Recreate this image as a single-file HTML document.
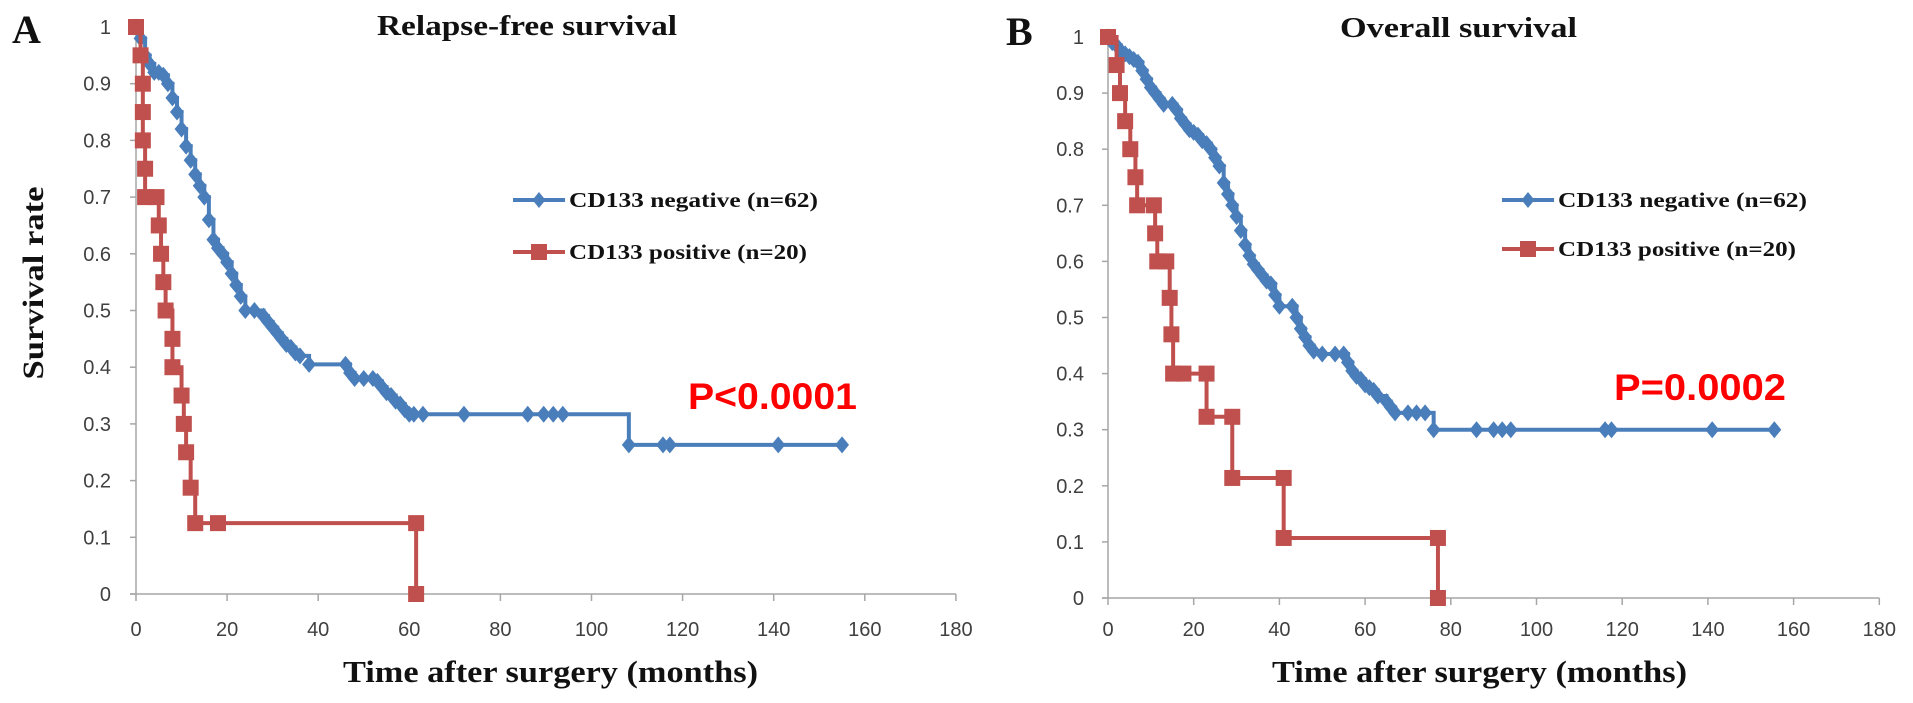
<!DOCTYPE html>
<html><head><meta charset="utf-8"><style>
html,body{margin:0;padding:0;background:#fff;}
svg{display:block;}
</style></head><body>
<svg id="chart" width="1913" height="703" viewBox="0 0 1913 703" xmlns="http://www.w3.org/2000/svg">
<g id="root"></g>
</svg>
<script>
// ---- data ----
const xTicks = [0,20,40,60,80,100,120,140,160,180];
const yTicks = [0,0.1,0.2,0.3,0.4,0.5,0.6,0.7,0.8,0.9,1];
const yTickLabels = ["0","0.1","0.2","0.3","0.4","0.5","0.6","0.7","0.8","0.9","1"];

const rfsNegT = [0,1,2,3,4,5,6,7,8,9,10,11,12,13,14,15,16,17,18,19,20,21,22,23,24,26,28,29,30,31,32,33,34,35,36,38,46,47,48,50,52,53,54,55,56,57,58,59,60,61,63,72,86,89.5,91.6,93.7,108.2,115.7,117.2,141,155];
const rfsNegS = [1,0.98,0.95,0.935,0.92,0.92,0.915,0.9,0.875,0.85,0.82,0.79,0.765,0.74,0.72,0.70,0.66,0.625,0.61,0.60,0.585,0.565,0.545,0.525,0.50,0.50,0.49,0.48,0.47,0.46,0.45,0.44,0.435,0.425,0.42,0.405,0.405,0.39,0.38,0.38,0.38,0.375,0.365,0.355,0.35,0.34,0.335,0.325,0.317,0.317,0.317,0.317,0.317,0.317,0.317,0.317,0.263,0.263,0.263,0.263,0.263];
const rfsPosT = [0,1,1.5,1.5,1.5,2,2,4.5,5,5.5,6,6.5,8,8,10,10.5,11,12,13,18,61.5,61.5];
const rfsPosS = [1,0.95,0.9,0.85,0.8,0.75,0.7,0.7,0.65,0.6,0.55,0.5,0.45,0.4,0.35,0.3,0.25,0.1875,0.125,0.125,0.125,0];

const osNegT = [0,1,2,3,4,5,6,7,8,9,10,11,12,13,15,16,17,18,19,20,21,22,23,24,25,26,27,28,29,30,31,32,33,34,35,36,37,38,39,40,43,44,45,46,47,48,50,53,55,56,57,58,59,60,61,62,63,65,66,67,70,72,74,76,86,90,92,94,116,117.5,141,155.5];
const osNegS = [1,0.99,0.985,0.975,0.97,0.965,0.96,0.955,0.94,0.925,0.91,0.9,0.89,0.88,0.88,0.87,0.855,0.845,0.835,0.83,0.825,0.815,0.81,0.80,0.785,0.77,0.74,0.72,0.70,0.68,0.655,0.63,0.61,0.595,0.585,0.575,0.565,0.56,0.54,0.52,0.52,0.50,0.48,0.465,0.45,0.44,0.435,0.435,0.435,0.42,0.405,0.395,0.39,0.38,0.375,0.37,0.36,0.35,0.34,0.33,0.33,0.33,0.33,0.30,0.30,0.30,0.30,0.30,0.30,0.30,0.30,0.30];
const osPosT = [0,2,2.8,4,5.2,6.4,6.8,10.7,11,11.5,13.6,14.4,14.8,15.2,17.6,23,23,29,29,41,41,77,77];
const osPosS = [1,0.95,0.9,0.85,0.8,0.75,0.7,0.7,0.65,0.6,0.6,0.535,0.47,0.4,0.4,0.4,0.323,0.323,0.214,0.214,0.107,0.107,0];

// ---- drawing ----
const NS = "http://www.w3.org/2000/svg";
const root = document.getElementById('root');
function mk(tag, attrs, parent){
  const e = document.createElementNS(NS, tag);
  for (const k in attrs) e.setAttribute(k, attrs[k]);
  (parent||root).appendChild(e);
  return e;
}
const BLUE = "#4a7ebb", RED = "#c0504d", AX = "#a6a6a6", TK = "#404040";

function panel(cfg){
  const g = mk('g', {});
  
  
  const x = t => cfg.x0 + t * cfg.px20 / 20;
  const y = s => cfg.y0 - s * cfg.py1;
  const ya = mk('line', {x1:x(0), y1:y(0), x2:x(0), y2:y(1), stroke:AX, 'stroke-width':1.5}, g);
  
  
  const xa = mk('line', {x1:x(0)-6, y1:y(0), x2:x(180), y2:y(0), stroke:AX, 'stroke-width':1.5}, g);
  
  
  yTicks.forEach((v,i) => {
    mk('line', {x1:x(0)-6, y1:y(v), x2:x(0), y2:y(v), stroke:AX, 'stroke-width':1.5}, g);
    const t = mk('text', {x:cfg.yLabR, y:y(v)+7, 'text-anchor':'end', fill:TK, 'font-family':'Liberation Sans, sans-serif', 'font-size':20}, g);
    t.textContent = yTickLabels[i];
    
    
  });
  xTicks.forEach(v => {
    mk('line', {x1:x(v), y1:y(0), x2:x(v), y2:y(0)+7, stroke:AX, 'stroke-width':1.5}, g);
    const t = mk('text', {x:x(v), y:636, 'text-anchor':'middle', fill:TK, 'font-family':'Liberation Sans, sans-serif', 'font-size':20}, g);
    t.textContent = String(v);
    
    
  });
  function series(T, S, color, kind, name){
    const sg = mk('g', {}, g);
    
    
    let d = "M" + x(T[0]) + "," + y(S[0]);
    for (let i = 1; i < T.length; i++) d += " H" + x(T[i]) + " V" + y(S[i]);
    mk('path', {d:d, fill:'none', stroke:color, 'stroke-width':4}, sg);
    for (let i = 0; i < T.length; i++){
      const cx = x(T[i]), cy = y(S[i]);
      let m;
      if (kind === 'diamond') m = mk('polygon', {points:`${cx},${cy-8.5} ${cx+7},${cy} ${cx},${cy+8.5} ${cx-7},${cy}`, fill:color}, sg);
      else m = mk('rect', {x:cx-8, y:cy-8, width:16, height:16, fill:color}, sg);
      
      
    }
  }
  series(cfg.negT, cfg.negS, BLUE, 'diamond', 'cd133-negative-curve');
  series(cfg.posT, cfg.posS, RED, 'square', 'cd133-positive-curve');
  const lg = mk('g', {}, g);
  
  
  [[BLUE,'diamond','CD133  negative (n=62)',cfg.legY1,cfg.legW1],[RED,'square','CD133 positive (n=20)',cfg.legY2,cfg.legW2]].forEach(L => {
    const ly = L[3];
    mk('line', {x1:cfg.legX, y1:ly, x2:cfg.legX+52, y2:ly, stroke:L[0], 'stroke-width':4}, lg);
    const cx = cfg.legX+26;
    if (L[1]==='diamond') mk('polygon', {points:`${cx},${ly-8} ${cx+6.5},${ly} ${cx},${ly+8} ${cx-6.5},${ly}`, fill:L[0]}, lg);
    else mk('rect', {x:cx-8, y:ly-8, width:16, height:16, fill:L[0]}, lg);
    const t = mk('text', {x:cfg.legX+56, y:ly+7, fill:'#111', 'font-family':'Liberation Serif, serif', 'font-weight':'bold', 'font-size':21, textLength:L[4], lengthAdjust:'spacingAndGlyphs'}, lg);
    t.textContent = L[2];
    
    
  });
  const texts = [
    [cfg.letter, cfg.letterX, cfg.letterY, 40, 'Liberation Serif, serif', '#111', null, 'panel-letter'],
    [cfg.title, cfg.titleX, cfg.titleY, 29, 'Liberation Serif, serif', '#111', cfg.titleW, 'panel-title'],
    ['Time after surgery (months)', cfg.xtX, 682, 31, 'Liberation Serif, serif', '#111', 415, 'x-axis-title'],
    [cfg.p, cfg.pX, cfg.pY, 37, 'Liberation Sans, sans-serif', '#ff0000', cfg.pW, 'p-value']
  ];
  texts.forEach(a => {
    const at = {x:a[1], y:a[2], 'font-size':a[3], 'font-family':a[4], 'font-weight':'bold', fill:a[5]};
    if (a[6]) { at.textLength = a[6]; at.lengthAdjust = 'spacingAndGlyphs'; }
    const t = mk('text', at, g);
    t.textContent = a[0];
    
    
  });
}

panel({name:'panel-a-relapse-free', x0:136, px20:91.1, y0:594, py1:567, yLabR:111,
  negT:rfsNegT, negS:rfsNegS, posT:rfsPosT, posS:rfsPosS,
  legX:513, legY1:200, legY2:252, legW1:249, legW2:238,
  letter:'A', letterX:12, letterY:43, title:'Relapse-free survival', titleX:377, titleY:35, titleW:300,
  xtX:343, p:'P<0.0001', pX:688, pY:409, pW:169});
panel({name:'panel-b-overall', x0:1108, px20:85.7, y0:598, py1:561, yLabR:1084,
  negT:osNegT, negS:osNegS, posT:osPosT, posS:osPosS,
  legX:1502, legY1:200, legY2:249, legW1:249, legW2:238,
  letter:'B', letterX:1006, letterY:45, title:'Overall survival', titleX:1340, titleY:37, titleW:237,
  xtX:1272, p:'P=0.0002', pX:1614, pY:400, pW:172});

const yt = mk('text', {x:0, y:0, transform:'translate(43,283) rotate(-90)', 'text-anchor':'middle', 'font-family':'Liberation Serif, serif', 'font-weight':'bold', 'font-size':30, fill:'#111', textLength:193, lengthAdjust:'spacingAndGlyphs'});
yt.textContent = 'Survival  rate';


</script>
</body></html>
